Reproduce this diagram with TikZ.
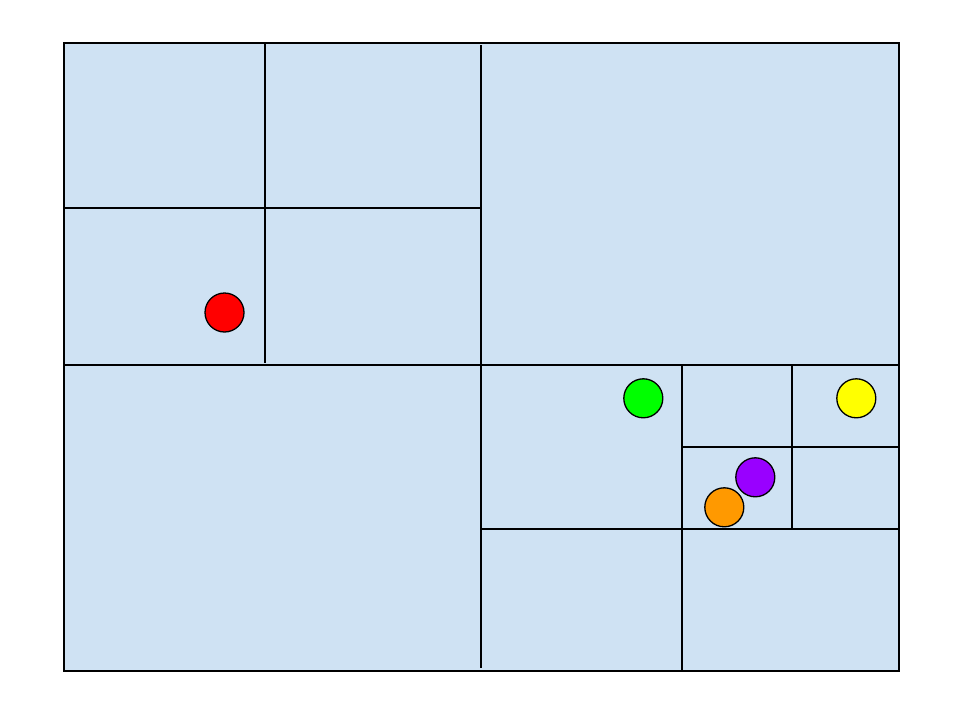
\documentclass[tikz,border=0pt]{standalone}
\usetikzlibrary{positioning}
\definecolor{cellfill}{HTML}{CFE2F3}
\definecolor{ptred}{HTML}{FF0000}
\definecolor{ptgreen}{HTML}{00FF00}
\definecolor{ptyellow}{HTML}{FFFF00}
\definecolor{ptpurple}{HTML}{9900FF}
\definecolor{ptorange}{HTML}{FF9900}
\tikzset{
  grid line/.style={line width=1.5pt, black},
  point/.style={circle, draw=black, line width=1.3pt, minimum size=39pt, inner sep=0pt},
}
\begin{document}
\begin{tikzpicture}[x=1pt,y=-1pt]
\useasboundingbox (0,0) rectangle (960,720);
\fill[white] (0,0) rectangle (960,720);
% outer cell
\draw[grid line, fill=cellfill] (64,43) rectangle (899,671);
% level 1
\draw[grid line] (481,45) -- (481,668);
\draw[grid line] (64,365) -- (899,365);
% top-left quadrant
\draw[grid line] (265,43) -- (265,363);
\draw[grid line] (64,208) -- (481,208);
% bottom-right quadrant
\draw[grid line] (682,365) -- (682,671);
\draw[grid line] (481,529) -- (899,529);
% sub-quadrant
\draw[grid line] (792,365) -- (792,529);
\draw[grid line] (682,447) -- (899,447);
% points
\node[point, fill=ptred] (red) at (224.5,312.5) {};
\node[point, fill=ptgreen] (green) at (643.3,398.3) {};
\node[point, fill=ptyellow] (yellow) at (856.3,398.3) {};
\node[point, fill=ptpurple] (purple) at (755.3,477.3) {};
\node[point, fill=ptorange] (orange) at (724.3,507.3) {};
\end{tikzpicture}
\end{document}
